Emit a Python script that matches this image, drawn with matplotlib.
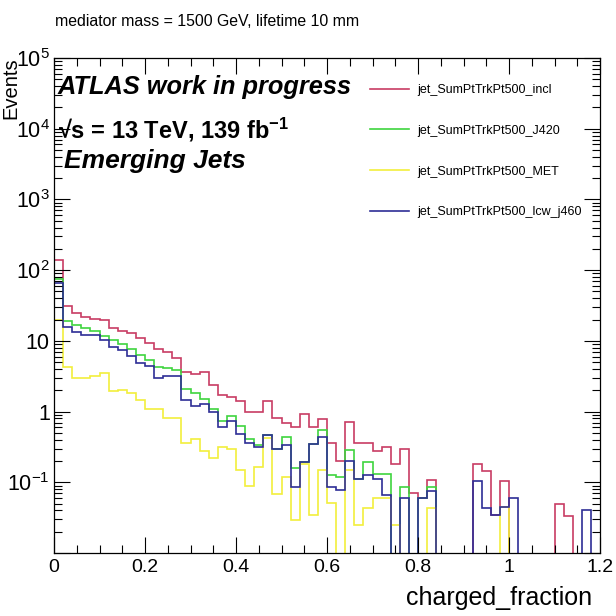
import numpy as np
import matplotlib
matplotlib.use("Agg")
import matplotlib.pyplot as plt
from matplotlib.ticker import LogLocator, MultipleLocator, NullFormatter
from matplotlib.lines import Line2D

plt.rcParams['font.family'] = ['Liberation Sans', 'DejaVu Sans']
plt.rcParams['mathtext.fontset'] = 'custom'
plt.rcParams['mathtext.rm'] = 'Liberation Sans'
plt.rcParams['mathtext.it'] = 'Liberation Sans:italic'
plt.rcParams['mathtext.bf'] = 'Liberation Sans:bold'

# ---- data (60 bins, charged_fraction 0 .. 1.2) ----
x_min, x_max, n_bins = 0.0, 1.2, 60

incl = [138, 31, 24.5, 21.9, 20.7, 19.5, 15.3, 14.0, 12.8, 11.0,
        9.2, 7.6, 7.0, 5.8, 3.6, 3.4, 3.6, 2.34, 1.72, 1.62,
        1.4, 1.0, 1.0, 1.42, 0.82, 0.70, 0.60, 0.93, 0.61, 0.78,
        0.355, 0.2, 0.71, 0.36, 0.36, 0.276, 0.32, 0.18, 0.296, 0.07,
        0.06, 0.107, 0, 0, 0, 0, 0.18, 0.144, 0.035, 0.104,
        0, 0, 0, 0, 0, 0.049, 0.033, 0, 0, 0]

j420 = [76, 19.3, 16.7, 15.0, 13.7, 11.7, 10.2, 9.0, 7.6, 6.3,
        5.4, 4.2, 4.1, 3.85, 2.1, 1.86, 1.53, 1.1, 0.73, 0.86,
        0.62, 0.41, 0.34, 0.47, 0.3, 0.43, 0.158, 0.195, 0.35, 0.54,
        0.126, 0.12, 0.29, 0.11, 0.195, 0.13, 0.13, 0, 0.085, 0,
        0.06, 0.085, 0, 0, 0, 0, 0, 0, 0, 0,
        0, 0, 0, 0, 0, 0, 0, 0, 0, 0]

met = [19.5, 4.2, 3.0, 3.0, 3.15, 3.46, 1.95, 2.05, 1.84, 1.45,
       1.1, 1.1, 0.8, 0.8, 0.355, 0.41, 0.28, 0.22, 0.32, 0.30,
       0.147, 0.09, 0.166, 0.42, 0.069, 0.117, 0.029, 0.18, 0.035, 0.148,
       0.051, 0, 0.15, 0.025, 0.043, 0.06, 0.06, 0.025, 0, 0,
       0, 0.043, 0, 0, 0, 0, 0, 0, 0, 0.045,
       0, 0, 0, 0, 0, 0, 0, 0, 0, 0]

lcw_j460 = [66, 15.9, 13.4, 12.0, 12.0, 10.2, 8.2, 7.4, 6.1, 4.8,
            4.4, 3.0, 3.15, 3.15, 1.45, 1.2, 1.26, 0.98, 0.6, 0.73,
            0.48, 0.36, 0.32, 0.46, 0.296, 0.335, 0.085, 0.195, 0.35, 0.43,
            0.085, 0.077, 0.2, 0.11, 0.126, 0.11, 0.066, 0, 0.06, 0,
            0.06, 0.076, 0, 0, 0, 0, 0.104, 0.043, 0.035, 0.045,
            0.06, 0, 0, 0, 0, 0, 0, 0, 0.04, 0]

series_names = ["jet_SumPtTrkPt500_incl", "jet_SumPtTrkPt500_J420",
                "jet_SumPtTrkPt500_MET", "jet_SumPtTrkPt500_lcw_j460"]
series_values = [incl, j420, met, lcw_j460]
series_colors = ["#c83c64", "#3ed43e", "#f2ef3c", "#2e2e96"]

x_ticks = [0, 0.2, 0.4, 0.6, 0.8, 1.0, 1.2]
x_tick_labels = ["0", "0.2", "0.4", "0.6", "0.8", "1", "1.2"]
y_ticks = [1e-2, 1e-1, 1, 10, 1e2, 1e3, 1e4, 1e5]
y_tick_labels = ["", r"$10^{-1}$", "1", "10", r"$10^{2}$", r"$10^{3}$", r"$10^{4}$", r"$10^{5}$"]

# ---- figure ----
fig = plt.figure(figsize=(6.16, 6.16), dpi=100)
W = H = 616.0
ax = fig.add_axes([54 / W, 1 - 553 / H, (600 - 54) / W, (553 - 58) / H])

edges = np.linspace(x_min, x_max, n_bins + 1)
for vals, col in zip(series_values, series_colors):
    v = np.asarray(vals, dtype=float)
    v = np.where(v > 0, v, 1e-5)
    ax.stairs(v, edges, baseline=None, color=col, lw=1.2)

ax.set_yscale("log")
ax.set_xlim(x_min, x_max)
ax.set_ylim(1e-2, 1e5)

ax.set_xticks(x_ticks)
ax.set_xticklabels(x_tick_labels)
ax.xaxis.set_minor_locator(MultipleLocator(0.05))
ax.set_yticks(y_ticks)
ax.set_yticklabels(y_tick_labels)
ax.yaxis.set_minor_locator(LogLocator(base=10, subs=np.arange(2, 10)))
ax.yaxis.set_minor_formatter(NullFormatter())

ax.tick_params(which="both", direction="in", top=True, right=True, width=0.8)
ax.tick_params(which="major", length=11.5, pad=4)
ax.tick_params(axis="x", which="major", labelsize=14)
ax.tick_params(axis="y", which="major", labelsize=15.5, pad=3)
ax.tick_params(which="minor", length=5.8)
for s in ax.spines.values():
    s.set_linewidth(0.9)

# titles
fig.text(55 / W, 1 - 22 / H, "mediator mass = 1500 GeV, lifetime 10 mm",
         fontsize=11.4, ha="left", va="center")
fig.text(592 / W, 1 - 598 / H, "charged_fraction", fontsize=18, ha="right", va="center")
fig.text(11 / W, 1 - 57 / H, "Events", fontsize=14.5, rotation=90, ha="center", va="top")

# labels inside plot
fig.text(58 / W, 1 - 87 / H, "ATLAS work in progress", fontsize=18.3,
         fontweight="bold", fontstyle="italic", ha="left", va="center")
fig.text(58 / W, 1 - 130 / H, "\u221as = 13 TeV, 139 fb$^{\\mathbf{-1}}$",
         fontsize=17, fontweight="bold", ha="left", va="center")
fig.text(64 / W, 1 - 161 / H, "Emerging Jets", fontsize=19,
         fontweight="bold", fontstyle="italic", ha="left", va="center")

handles = [Line2D([], [], color=c, lw=1.2) for c in series_colors]
fig.legend(handles, series_names, loc="upper left",
           bbox_to_anchor=(370 / W, 1 - 84 / H), frameon=False,
           fontsize=9, handlelength=3.1, handletextpad=0.7,
           labelspacing=2.3, borderpad=0, borderaxespad=0)

fig.savefig("out.png", dpi=100)
